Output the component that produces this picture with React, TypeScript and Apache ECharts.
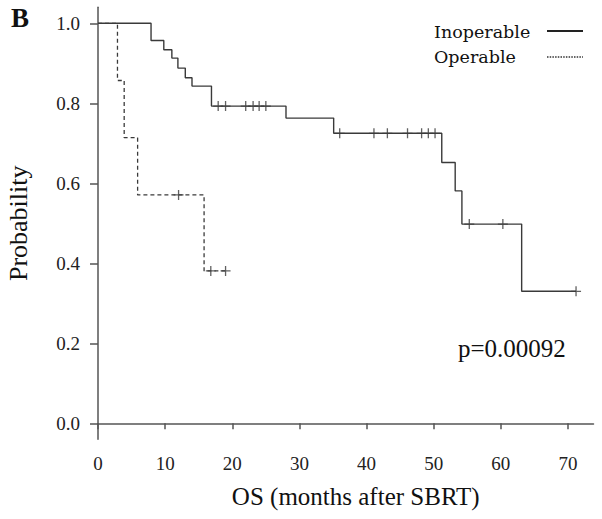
import React, { useEffect, useRef } from "react";
import * as echarts from "echarts";

// Inoperable group (solid): step times and survival after each step
const inopTimes = [0, 7.9, 9.8, 11.0, 11.9, 13.0, 14.0, 16.9, 28.0, 35.1, 51.2, 53.2, 54.2, 63.1, 71.2];
const inopSurv = [1.0, 0.957, 0.934, 0.913, 0.888, 0.864, 0.843, 0.793, 0.763, 0.725, 0.652, 0.581, 0.498, 0.33, 0.33];
const inopCensorTimes = [17.9, 19.0, 22.0, 23.1, 24.0, 25.0, 36.0, 41.1, 43.1, 46.1, 48.2, 49.2, 50.2, 55.3, 60.3, 71.2];
const inopCensorSurv = [0.793, 0.793, 0.793, 0.793, 0.793, 0.793, 0.725, 0.725, 0.725, 0.725, 0.725, 0.725, 0.725, 0.498, 0.498, 0.33];

// Operable group (dashed)
const opTimes = [0, 2.9, 3.9, 5.9, 15.8, 19.0];
const opSurv = [1.0, 0.857, 0.714, 0.571, 0.381, 0.381];
const opCensorTimes = [12.0, 16.8, 19.0];
const opCensorSurv = [0.571, 0.381, 0.381];

const xTicks = [0, 10, 20, 30, 40, 50, 60, 70];
const yTicks = [0, 0.2, 0.4, 0.6, 0.8, 1.0];

const legendNames = ["Inoperable", "Operable"];
const pValueText = "p=0.00092";
const panelLabel = "B";

const serif = "'Liberation Serif', 'Times New Roman', serif";
const lineColor = "#3a3a3a";
const axisColor = "#555555";
const plusSymbol = "path://M5 0L5 10M0 5L10 5";

export default function App() {
  const ref = useRef<HTMLDivElement>(null);

  useEffect(() => {
    document.body.style.margin = "0";
    if (!ref.current) return;
    const chart = echarts.init(ref.current, null, { renderer: "svg" });

    const zip = (a: number[], b: number[]) => a.map((v, i) => [v, b[i]]);

    chart.setOption({
      animation: false,
      backgroundColor: "#ffffff",
      title: {
        text: panelLabel,
        left: 6,
        top: -1,
        textStyle: { fontFamily: serif, fontWeight: "bold", fontSize: 27, color: "#111" },
      },
      grid: { left: 98, right: 8.5, top: 7.3, bottom: 79.7, containLabel: false, outerBoundsMode: "none" },
      xAxis: {
        type: "value",
        min: 0,
        max: 73.8,
        name: "OS (months after SBRT)",
        nameLocation: "middle",
        nameGap: 45,
        nameTextStyle: { fontFamily: serif, fontSize: 25, color: "#111", padding: [0, 0, 0, 20] },
        axisLine: { show: true, lineStyle: { color: axisColor, width: 1.5 } },
        axisTick: { show: true, customValues: xTicks, length: 6, lineStyle: { color: axisColor, width: 1.5 } },
        axisLabel: { customValues: xTicks, margin: 15, fontFamily: serif, fontSize: 19, color: "#222" },
        splitLine: { show: false },
      },
      yAxis: {
        type: "value",
        min: -0.04,
        max: 1.04,
        name: "Probability",
        nameLocation: "middle",
        nameGap: 67,
        nameTextStyle: { fontFamily: serif, fontSize: 26, color: "#111" },
        axisLine: { show: true, lineStyle: { color: axisColor, width: 1.5 } },
        axisTick: { show: true, customValues: yTicks, length: 8, lineStyle: { color: axisColor, width: 1.5 } },
        axisLabel: {
          customValues: yTicks,
          margin: 18,
          fontFamily: serif,
          fontSize: 19,
          color: "#222",
          formatter: (v: number) => v.toFixed(1),
        },
        splitLine: { show: false },
      },
      series: [
        {
          name: legendNames[0],
          type: "line",
          step: "end",
          data: zip(inopTimes, inopSurv),
          showSymbol: false,
          symbol: "none",
          lineStyle: { color: lineColor, width: 1.4 },
        },
        {
          name: legendNames[1],
          type: "line",
          step: "end",
          data: zip(opTimes, opSurv),
          showSymbol: false,
          symbol: "none",
          lineStyle: { color: lineColor, width: 1.3, type: [4, 3] },
        },
        {
          name: legendNames[0] + " censored",
          type: "scatter",
          data: zip(inopCensorTimes, inopCensorSurv),
          symbol: plusSymbol,
          symbolSize: 10,
          itemStyle: { color: "none", borderColor: lineColor, borderWidth: 1.3 },
        },
        {
          name: legendNames[1] + " censored",
          type: "scatter",
          data: zip(opCensorTimes, opCensorSurv),
          symbol: plusSymbol,
          symbolSize: 10,
          itemStyle: { color: "none", borderColor: lineColor, borderWidth: 1.3 },
        },
      ],
      graphic: [
        {
          type: "text",
          x: 434,
          y: 32,
          style: { text: legendNames[0], fontFamily: "'DejaVu Serif', serif", fontSize: 17.5, fill: "#111", verticalAlign: "middle" },
        },
        {
          type: "text",
          x: 434,
          y: 57,
          style: { text: legendNames[1], fontFamily: "'DejaVu Serif', serif", fontSize: 17.5, fill: "#111", verticalAlign: "middle" },
        },
        {
          type: "line",
          shape: { x1: 547, y1: 31, x2: 583, y2: 31 },
          style: { stroke: "#222", lineWidth: 2 },
        },
        {
          type: "line",
          shape: { x1: 547, y1: 57, x2: 583, y2: 57 },
          style: { stroke: "#333", lineWidth: 1.6, lineDash: [1.5, 1.2] },
        },
        {
          type: "text",
          x: 458,
          y: 348,
          style: { text: pValueText, fontFamily: serif, fontSize: 25, fill: "#111", verticalAlign: "middle" },
        },
      ],
    });

    return () => chart.dispose();
  }, []);

  return <div ref={ref} style={{ width: 602, height: 519 }} />;
}
